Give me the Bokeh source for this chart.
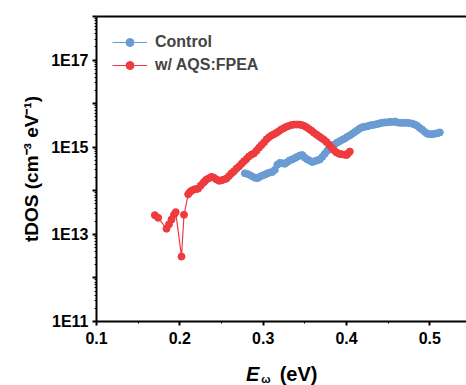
from bokeh.plotting import figure
from bokeh.layouts import column
from bokeh.models import FixedTicker, CustomJSTickFormatter, Legend, LegendItem, LinearAxis, Div
from bokeh.embed import file_html
from bokeh.resources import INLINE

# ---- data (energy in eV, tDOS as log10 of cm^-3 eV^-1) ----
control_e = [0.278, 0.282, 0.286, 0.290, 0.293, 0.296, 0.299, 0.302, 0.305, 0.308,
             0.311, 0.314, 0.317, 0.320, 0.323, 0.326, 0.329, 0.332, 0.335, 0.338,
             0.341, 0.344, 0.347, 0.350, 0.353, 0.356, 0.359, 0.362, 0.365, 0.368,
             0.371, 0.374, 0.377, 0.380, 0.383, 0.386, 0.389, 0.392, 0.395, 0.398,
             0.401, 0.404, 0.407, 0.410, 0.413, 0.416, 0.419, 0.422, 0.425, 0.428,
             0.431, 0.434, 0.437, 0.440, 0.443, 0.446, 0.449, 0.452, 0.455, 0.458,
             0.461, 0.464, 0.467, 0.470, 0.473, 0.476, 0.479, 0.482, 0.485, 0.488,
             0.491, 0.494, 0.497, 0.500, 0.503, 0.506, 0.509, 0.512]
control_log_tdos = [14.40, 14.38, 14.34, 14.30, 14.29, 14.32, 14.35, 14.37, 14.40, 14.42,
                    14.43, 14.48, 14.60, 14.64, 14.63, 14.62, 14.66, 14.70, 14.72, 14.75,
                    14.78, 14.81, 14.82, 14.76, 14.72, 14.69, 14.66, 14.68, 14.70, 14.72,
                    14.78, 14.85, 14.92, 14.97, 15.02, 15.07, 15.11, 15.14, 15.17, 15.20,
                    15.24, 15.27, 15.31, 15.35, 15.39, 15.43, 15.46, 15.47, 15.48, 15.50,
                    15.51, 15.52, 15.53, 15.55, 15.56, 15.57, 15.57, 15.58, 15.58, 15.59,
                    15.57, 15.56, 15.56, 15.56, 15.56, 15.55, 15.54, 15.52, 15.49, 15.44,
                    15.40, 15.35, 15.31, 15.30, 15.30, 15.31, 15.32, 15.34]

aqs_e = [0.170, 0.174, 0.184, 0.187, 0.190, 0.193, 0.195, 0.202, 0.205, 0.210,
         0.212, 0.214, 0.217, 0.220, 0.222, 0.225, 0.228, 0.230, 0.232, 0.235,
         0.238, 0.241, 0.244, 0.247, 0.250, 0.253, 0.256, 0.259, 0.262, 0.265,
         0.268, 0.271, 0.274, 0.277, 0.280, 0.283, 0.286, 0.289, 0.292, 0.295,
         0.298, 0.301, 0.304, 0.307, 0.310, 0.313, 0.316, 0.319, 0.322, 0.325,
         0.328, 0.331, 0.334, 0.337, 0.340, 0.343, 0.346, 0.349, 0.352, 0.355,
         0.358, 0.361, 0.364, 0.367, 0.370, 0.373, 0.376, 0.379, 0.382, 0.385,
         0.388, 0.391, 0.394, 0.397, 0.400, 0.402, 0.404]
aqs_log_tdos = [13.44, 13.38, 13.13, 13.23, 13.34, 13.45, 13.51, 12.49, 13.45, 13.92,
                13.97, 14.00, 14.03, 14.04, 14.05, 14.12, 14.18, 14.22, 14.26, 14.29,
                14.32, 14.30, 14.26, 14.23, 14.24, 14.26, 14.28, 14.34, 14.40, 14.45,
                14.51, 14.56, 14.62, 14.68, 14.73, 14.79, 14.83, 14.86, 14.92, 14.99,
                15.05, 15.11, 15.18, 15.23, 15.27, 15.30, 15.33, 15.37, 15.41, 15.44,
                15.47, 15.49, 15.51, 15.52, 15.52, 15.52, 15.51, 15.49, 15.46, 15.42,
                15.38, 15.33, 15.29, 15.25, 15.21, 15.17, 15.12, 15.06, 14.99, 14.93,
                14.88, 14.85, 14.84, 14.83, 14.82, 14.86, 14.90]

series_names = ["Control", "w/ AQS:FPEA"]
x_major_ticks = [0.1, 0.2, 0.3, 0.4, 0.5]
x_minor_ticks = [0.15, 0.25, 0.35, 0.45, 0.55]
y_decades = list(range(11, 19))

BLUE = "#6A9BD2"
RED = "#EE3B3E"
FONT = "Liberation Sans"

control_tdos = [10 ** v for v in control_log_tdos]
aqs_tdos = [10 ** v for v in aqs_log_tdos]

W, H_MAIN, H_XLABEL = 466, 353, 32

p = figure(width=W, height=H_MAIN, x_range=(0.1, 0.544), y_range=(1e11, 1e18),
           y_axis_type="log", output_backend="svg", toolbar_location=None,
           min_border_left=96, min_border_right=0, min_border_top=16,
           min_border_bottom=H_MAIN - 321)
p.outline_line_color = None
p.grid.visible = False
p.background_fill_color = "white"
p.border_fill_color = "white"

lb = p.line(control_e, control_tdos, line_color=BLUE, line_width=1.2)
sb = p.scatter(control_e, control_tdos, marker="circle", size=7, fill_color=BLUE, line_color=BLUE)
lr = p.line(aqs_e, aqs_tdos, line_color=RED, line_width=1.2)
sr = p.scatter(aqs_e, aqs_tdos, marker="circle", size=7, fill_color=RED, line_color=RED)

# axes
for ax in (p.xaxis[0], p.yaxis[0]):
    ax.axis_line_width = 2
    ax.axis_line_color = "black"
    ax.major_tick_line_width = 2
    ax.minor_tick_line_width = 1
    ax.major_tick_in = 0
    ax.major_tick_out = 4
    ax.minor_tick_in = 0
    ax.minor_tick_out = 2
    ax.major_label_text_font = FONT
    ax.major_label_text_font_style = "bold"
    ax.major_label_text_font_size = "16px"
    ax.major_label_text_color = "black"

p.xaxis.ticker = FixedTicker(ticks=x_major_ticks, minor_ticks=x_minor_ticks)
p.xaxis.major_label_standoff = 6

p.yaxis.ticker = FixedTicker(ticks=[10.0 ** k for k in y_decades],
                             minor_ticks=[m * 10.0 ** k for k in y_decades[:-1] for m in range(2, 10)])
p.yaxis.formatter = CustomJSTickFormatter(
    code="const e = Math.round(Math.log10(tick)); return (e % 2 == 1) ? '1E' + e : '';")
p.yaxis.major_label_standoff = 4
p.yaxis.axis_label = "tDOS (cm\u207b\u00b3 eV\u207b\u00b9)"
p.yaxis.axis_label_text_font = FONT
p.yaxis.axis_label_text_font_style = "bold"
p.yaxis.axis_label_text_font_size = "19px"
p.yaxis.axis_label_text_color = "black"
p.yaxis.axis_label_standoff = 6

# top frame line (plain axis with no ticks or labels)
top = LinearAxis(ticker=FixedTicker(ticks=[]), axis_line_width=2, axis_line_color="black",
                 major_tick_line_color=None, minor_tick_line_color=None,
                 major_label_text_font_size="0px")
p.add_layout(top, "above")

legend = Legend(items=[LegendItem(label=series_names[0], renderers=[lb, sb]),
                       LegendItem(label=series_names[1], renderers=[lr, sr])],
                location="top_left", margin=16, padding=0, spacing=3,
                glyph_width=35, glyph_height=20, label_height=20, label_standoff=8,
                border_line_color=None, background_fill_alpha=0,
                label_text_font=FONT, label_text_font_style="bold", label_text_font_size="16px")
p.add_layout(legend)

# x-axis title: E (bold italic) with subscript omega, then (eV)
x_title_html = (
    "<div style=\"margin:11px 0 0 246px; font-family:'Liberation Sans'; font-size:20px; "
    "font-weight:bold; line-height:20px; color:black; white-space:nowrap;\">"
    "<span style='font-style:italic'>E</span>"
    "<span style='font-size:11px; position:relative; top:2px; margin-left:2px; line-height:0'>\u03c9</span>"
    "<span style='margin-left:9px'>(eV)</span></div>"
)
x_title = Div(text=x_title_html, width=W, height=H_XLABEL, margin=0)

layout = column(p, x_title, spacing=0)
open("out.html", "w").write(file_html(layout, INLINE))
